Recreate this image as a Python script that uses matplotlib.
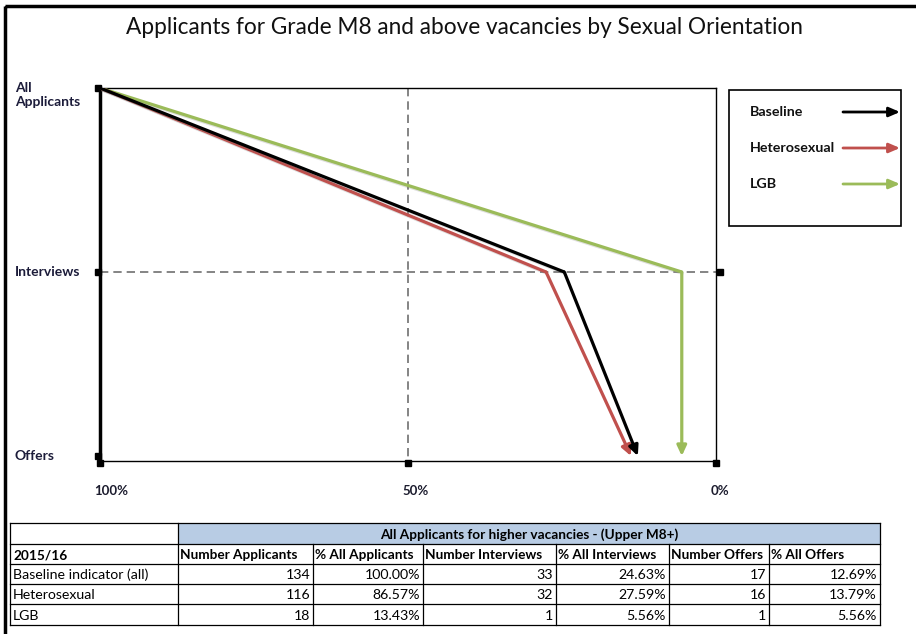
import numpy as np
import matplotlib
matplotlib.use("Agg")
import matplotlib.pyplot as plt
from matplotlib.patches import Rectangle
import matplotlib.patheffects as pe

plt.rcParams['font.family'] = ['Lato', 'DejaVu Sans']

# Recruitment figures, 2015/16
groups = ["Baseline indicator (all)", "Heterosexual", "LGB"]
series_names = ["Baseline", "Heterosexual", "LGB"]
series_colors = ["#000000", "#C0504D", "#9BBB59"]
applicants = [134, 116, 18]
interviews = [33, 32, 1]
offers = [17, 16, 1]

stages = ["All\nApplicants", "Interviews", "Offers"]
stage_y = [2, 1, 0]
x_ticks = [100, 50, 0]
x_tick_labels = ["100%", "50%", "0%"]

table_cols = ["Number Applicants", "% All Applicants", "Number Interviews",
              "% All Interviews", "Number Offers", "% All Offers"]

W, H = 916, 634
fig = plt.figure(figsize=(W / 100, H / 100), dpi=100)

# pixel-space canvas for frame, legend and table
canvas = fig.add_axes([0, 0, 1, 1], zorder=0)
canvas.set_xlim(0, W)
canvas.set_ylim(H, 0)
canvas.axis("off")
canvas.add_patch(Rectangle((5, 6), W + 20, H + 20, fill=False, lw=2.5, ec="black"))

# main funnel axes
left, right, top, bottom = 100, 716, 88, 461
ax = fig.add_axes([left / W, 1 - bottom / H, (right - left) / W, (bottom - top) / H], zorder=2)
ax.patch.set_alpha(0)
ax.set_xlim(100, 0)
ax.set_ylim(-0.027, 2)
ax.set_xticks([])
ax.set_yticks([])
for s in ["top", "right", "bottom"]:
    ax.spines[s].set_linewidth(1.0)
ax.spines["left"].set_linewidth(2.5)

fig.text(464 / W, 1 - 27 / H, "Applicants for Grade M8 and above vacancies by Sexual Orientation",
         ha="center", va="center", fontsize=16.3, color="#111111")

# reference lines
ax.plot([100, -0.7], [1, 1], ls=(0, (5, 3)), color="#707070", lw=1.2, clip_on=False, zorder=1)
ax.plot([-0.7], [1], marker="s", ms=4.5, color="black", clip_on=False, zorder=1)
ax.plot([50, 50], [2, -0.027], ls=(0, (5, 3)), color="#707070", lw=1.2, clip_on=False, zorder=1)

# tick squares
for xt in x_ticks:
    ax.plot([xt], [-0.04], marker="s", ms=4.5, color="black", clip_on=False)
for yt in stage_y:
    ax.plot([100.4], [yt], marker="s", ms=4.5, color="black", clip_on=False)

for xt, lab in zip(x_ticks, x_tick_labels):
    ax.annotate(lab, (xt, 0), xycoords=("data", "axes fraction"), xytext=(-4, -17),
                textcoords="offset points", ha="left", va="top", fontsize=9.5,
                fontweight="bold", color="#1c1c2e")
stage_offsets = [-5, 0, 0]
for yt, lab, off in zip(stage_y, stages, stage_offsets):
    ax.annotate(lab, (0, yt), xycoords=("figure fraction", "data"), xytext=(15 * 0.72, off),
                textcoords="offset points", ha="left", va="center", fontsize=10,
                fontweight="bold", color="#1c1c3a", linespacing=1.15)

shadow = [pe.SimpleLineShadow(offset=(1.2, -1.2), alpha=0.25, shadow_color="gray"), pe.Normal()]

# conversion rates per group
for i in [2, 1, 0]:
    rate_int = 100 * interviews[i] / applicants[i]
    rate_off = 100 * offers[i] / applicants[i]
    xs = [100, rate_int, rate_off]
    ax.plot(xs[:2], stage_y[:2], color=series_colors[i], lw=2.3, solid_capstyle="butt",
            path_effects=shadow, zorder=3 + (2 - i))
    ax.annotate("", xy=(xs[2], stage_y[2]), xytext=(xs[1], stage_y[1]),
                arrowprops=dict(arrowstyle="-|>,head_length=0.6,head_width=0.28",
                                color=series_colors[i], lw=2.3, shrinkA=0, shrinkB=0),
                zorder=3 + (2 - i))

# legend box
canvas.add_patch(Rectangle((729, 90), 172, 136, fill=False, lw=1.2, ec="black"))
for k, (name, col) in enumerate(zip(series_names, series_colors)):
    ly = 112 + k * 36
    canvas.text(750, ly, name, ha="left", va="center", fontsize=10.3, fontweight="bold",
                color="#111111")
    canvas.annotate("", xy=(900, ly), xytext=(843, ly),
                    arrowprops=dict(arrowstyle="-|>,head_length=0.65,head_width=0.28",
                                    color=col, lw=2.0, shrinkA=0, shrinkB=0))

# summary table
col_x = [10, 178, 313, 423, 556, 669, 769, 880]
row_y = [523, 544, 564, 584, 604, 625]
hfs, tfs = 9.8, 10.2
canvas.add_patch(Rectangle((col_x[1], row_y[0]), col_x[-1] - col_x[1], row_y[1] - row_y[0],
                           fc="#B8CCE4", ec="none"))
lw = 0.9
for y in row_y:
    canvas.plot([col_x[0], col_x[-1]], [y, y], color="black", lw=lw)
canvas.plot([col_x[0], col_x[0]], [row_y[0], row_y[-1]], color="black", lw=lw)
canvas.plot([col_x[-1], col_x[-1]], [row_y[0], row_y[-1]], color="black", lw=lw)
canvas.plot([col_x[1], col_x[1]], [row_y[0], row_y[-1]], color="black", lw=lw)
for x in col_x[2:-1]:
    canvas.plot([x, x], [row_y[1], row_y[-1]], color="black", lw=lw)

canvas.text((col_x[1] + col_x[-1]) / 2, (row_y[0] + row_y[1]) / 2 + 1,
            "All Applicants for higher vacancies - (Upper M8+)",
            ha="center", va="center", fontsize=hfs, fontweight="bold")
canvas.text(col_x[0] + 3, (row_y[1] + row_y[2]) / 2 + 1, "2015/16",
            ha="left", va="center", fontsize=hfs, fontweight="bold")
for j, name in enumerate(table_cols):
    canvas.text(col_x[j + 1] + 2, (row_y[1] + row_y[2]) / 2 + 1, name,
                ha="left", va="center", fontsize=hfs, fontweight="bold")

for i, g in enumerate(groups):
    cy = (row_y[i + 2] + row_y[i + 3]) / 2 + 1
    vals = [f"{applicants[i]}", f"{100 * applicants[i] / applicants[0]:.2f}%",
            f"{interviews[i]}", f"{100 * interviews[i] / applicants[i]:.2f}%",
            f"{offers[i]}", f"{100 * offers[i] / applicants[i]:.2f}%"]
    canvas.text(col_x[0] + 3, cy, g, ha="left", va="center", fontsize=tfs)
    for j, v in enumerate(vals):
        canvas.text(col_x[j + 2] - 3, cy, v, ha="right", va="center", fontsize=tfs)

fig.savefig("out.png", dpi=100)
